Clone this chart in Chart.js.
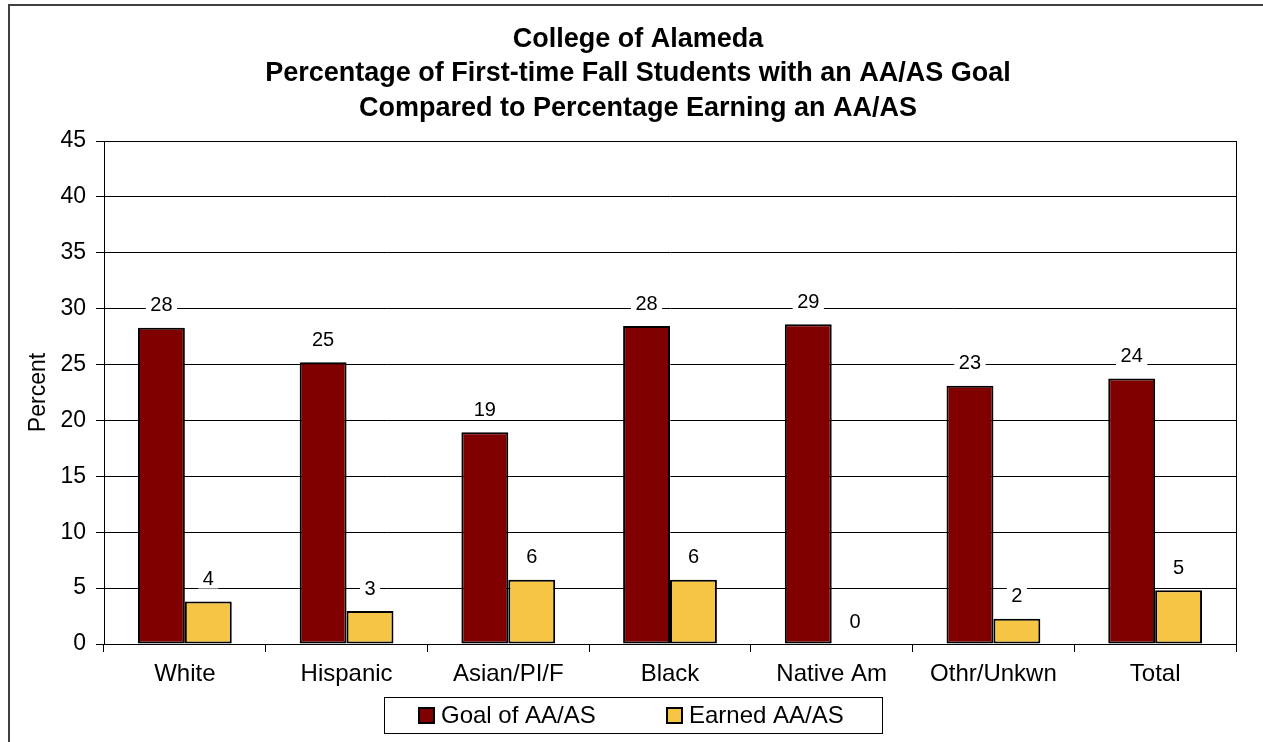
<!DOCTYPE html>
<html>
<head>
<meta charset="utf-8">
<script src="https://cdn.jsdelivr.net/npm/chart.js@4.4.1/dist/chart.umd.min.js"></script>
<style>
  html, body { margin: 0; padding: 0; background: #fff; }
</style>
</head>
<body>
<canvas id="barChart" width="1263" height="742"></canvas>
<script>
// Data
const categories = ['White', 'Hispanic', 'Asian/PI/F', 'Black', 'Native Am', 'Othr/Unkwn', 'Total'];
const goalValues = [28.3, 25.2, 18.95, 28.45, 28.6, 23.1, 23.75];
const earnedValues = [3.8, 2.95, 5.75, 5.75, 0, 2.25, 4.8];
const seriesNames = ['Goal of AA/AS', 'Earned AA/AS'];
const yTickValues = [0, 5, 10, 15, 20, 25, 30, 35, 40, 45];
const titleLines = [
    'College of Alameda',
    'Percentage of First-time Fall Students with an AA/AS Goal',
    'Compared to Percentage Earning an AA/AS'
];

const FONT = "'Liberation Sans', Arial, sans-serif";

// white page + outer frame, and the plot-area box
const framePlugin = {
    id: 'frame',
    afterLayout(chart) {
        // the original frame runs a bit past the right edge, title is centred on it
        chart.titleBlock.left = 8;
        chart.titleBlock.right = 1268;
        chart.titleBlock.width = 1260;
    },
    beforeDraw(chart) {
        const ctx = chart.ctx;
        ctx.save();
        ctx.fillStyle = '#fff';
        ctx.fillRect(0, 0, chart.width, chart.height);
        ctx.strokeStyle = '#404040';
        ctx.lineWidth = 2;
        ctx.strokeRect(9, 5, chart.width + 20, chart.height + 20);
        ctx.restore();
    },
    afterDraw(chart) {
        const a = chart.chartArea;
        const ctx = chart.ctx;
        ctx.save();
        ctx.strokeStyle = '#000';
        ctx.lineWidth = 1;
        ctx.strokeRect(Math.round(a.left) + 0.5, Math.round(a.top) + 0.5,
            Math.round(a.right - a.left), Math.round(a.bottom - a.top));
        ctx.restore();
    }
};

// value labels over the bars, on a white patch
const valueLabels = {
    id: 'valueLabels',
    afterDatasetsDraw(chart) {
        const ctx = chart.ctx;
        ctx.save();
        ctx.font = '20px ' + FONT;
        ctx.textAlign = 'center';
        ctx.textBaseline = 'middle';
        chart.data.datasets.forEach((ds, i) => {
            chart.getDatasetMeta(i).data.forEach((bar, j) => {
                const txt = String(Math.round(ds.data[j]));
                const w = ctx.measureText(txt).width + 9;
                const y = bar.y - 23;
                ctx.fillStyle = '#fff';
                ctx.fillRect(bar.x - w / 2, y - 10, w, 20);
                ctx.fillStyle = '#000';
                ctx.fillText(txt, bar.x, y + 1);
            });
        });
        ctx.restore();
    }
};

// boxed legend under the axis
const boxLegend = {
    id: 'boxLegend',
    afterDraw(chart) {
        const ctx = chart.ctx;
        ctx.save();
        ctx.strokeStyle = '#000';
        ctx.lineWidth = 1;
        ctx.strokeRect(384.5, 697.5, 498, 36);
        const xs = [419, 667];
        ctx.font = '24px ' + FONT;
        ctx.textBaseline = 'middle';
        chart.data.datasets.forEach((ds, i) => {
            ctx.fillStyle = ds.backgroundColor;
            ctx.fillRect(xs[i], 708, 15, 15);
            ctx.lineWidth = 2;
            ctx.strokeStyle = '#000';
            ctx.strokeRect(xs[i], 708, 15, 15);
            ctx.fillStyle = '#000';
            ctx.fillText(ds.label, xs[i] + 22, 716);
        });
        ctx.restore();
    }
};

const ctx = document.getElementById('barChart').getContext('2d');
const barChart = new Chart(ctx, {
    type: 'bar',
    data: {
        labels: categories,
        datasets: [{
            label: seriesNames[0],
            data: goalValues,
            backgroundColor: '#800000',
            borderColor: '#000',
            borderWidth: 2,
            borderSkipped: false,
            categoryPercentage: 0.58,
            barPercentage: 1
        }, {
            label: seriesNames[1],
            data: earnedValues,
            backgroundColor: '#F5C543',
            borderColor: '#000',
            borderWidth: 2,
            borderSkipped: false,
            categoryPercentage: 0.58,
            barPercentage: 1
        }]
    },
    options: {
        responsive: false,
        animation: false,
        layout: { padding: { left: 8, right: 27, top: 0, bottom: 0 } },
        plugins: {
            legend: { display: false },
            tooltip: { enabled: false },
            title: {
                display: true,
                text: titleLines,
                color: '#000',
                font: { family: FONT, size: 27, weight: 'bold', lineHeight: 1.26 },
                padding: { top: 23, bottom: 16 }
            }
        },
        scales: {
            x: {
                grid: {
                    display: true,
                    drawOnChartArea: false,
                    color: '#000',
                    tickLength: 8,
                    offset: true
                },
                border: { color: '#000', width: 1 },
                ticks: { color: '#000', font: { family: FONT, size: 24 }, padding: 8, maxRotation: 0 },
                afterFit(scale) { scale.height = 98; }
            },
            y: {
                min: 0,
                max: 45,
                afterBuildTicks(scale) {
                    scale.ticks = yTickValues.map(v => ({ value: v }));
                },
                grid: { color: '#000', tickLength: 8, lineWidth: 1 },
                border: { color: '#000', width: 1 },
                ticks: { color: '#000', font: { family: FONT, size: 23 }, padding: 10 },
                title: {
                    display: true,
                    text: 'Percent',
                    color: '#000',
                    font: { family: FONT, size: 23 },
                    padding: { top: 17, bottom: 0 }
                },
                afterFit(scale) { scale.width = 96; }
            }
        }
    },
    plugins: [framePlugin, valueLabels, boxLegend]
});
</script>
</body>
</html>
